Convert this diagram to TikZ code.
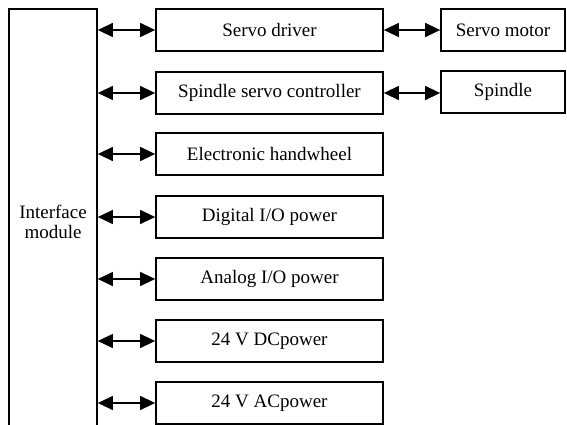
\documentclass[tikz,border=0pt]{standalone}
\usepackage{fontspec}
\setmainfont{Liberation Serif}
\usetikzlibrary{arrows.meta}
\usetikzlibrary{positioning}

\begin{document}
\begin{tikzpicture}[x=1pt, y=-1pt, line width=1.7pt,
    >={Triangle[length=15pt,width=14pt]},
    every node/.style={font=\fontsize{19}{20}\selectfont},
    unit/.style={draw, minimum width=227pt, minimum height=42pt},
    part/.style={draw, minimum width=124pt, minimum height=42pt},
    link/.style={<->, line width=1.2pt}]
  \useasboundingbox (0,0) rectangle (567,425);

  \node[draw, align=center, minimum width=88pt, minimum height=426pt] (iface) at (53,222) {Interface\\module};

  \node[unit] (drv) at (269.5,30) {Servo driver};
  \node[unit] (ssc) at (269.5,93) {Spindle servo controller};
  \node[unit] (hwl) at (269.5,154) {Electronic handwheel};
  \node[unit] (dio) at (269.5,217) {Digital I/O power};
  \node[unit] (aio) at (269.5,279) {Analog I/O power};
  \node[unit] (dcp) at (269.5,341) {24 V DCpower};
  \node[unit] (acp) at (269.5,403) {24 V ACpower};

  \node[part] (mot) at (503,30) {Servo motor};
  \node[part] (spd) at (503,92) {Spindle};

  \draw[link] (iface.east |- drv.west) -- (drv.west);
  \draw[link] (iface.east |- ssc.west) -- (ssc.west);
  \draw[link] (iface.east |- hwl.west) -- (hwl.west);
  \draw[link] (iface.east |- dio.west) -- (dio.west);
  \draw[link] (iface.east |- aio.west) -- (aio.west);
  \draw[link] (iface.east |- dcp.west) -- (dcp.west);
  \draw[link] (iface.east |- acp.west) -- (acp.west);

  \draw[link] (drv.east) -- (mot.west);
  \draw[link] (ssc.east) -- (ssc.east -| spd.west);
\end{tikzpicture}
\end{document}
